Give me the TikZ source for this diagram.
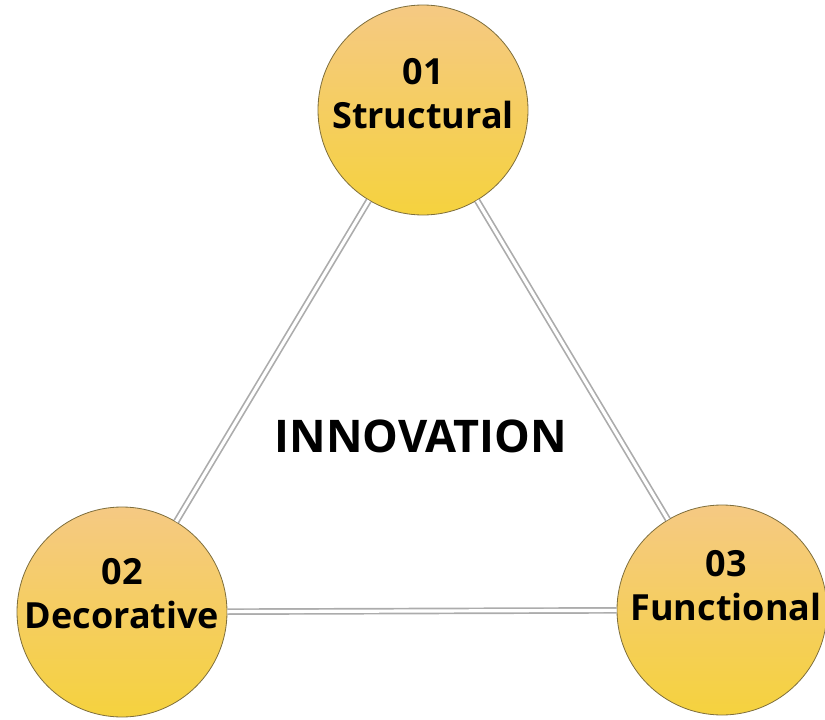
\documentclass[tikz,border=0pt]{standalone}
\usepackage{fontspec}
\setmainfont{Open Sans}
\usepackage{tikz}
\usetikzlibrary{positioning}

\definecolor{bolaarriba}{HTML}{F5C983}
\definecolor{bolaabajo}{HTML}{F5D23E}
\definecolor{borde}{HTML}{7E6E3C}

\begin{document}
\begin{tikzpicture}[x=1pt, y=-1pt,
    bola/.style={draw=borde, line width=0.8pt, circle, minimum size=210pt, inner sep=0pt,
      top color=bolaarriba, bottom color=bolaabajo},
    rotulo/.style={align=center, font=\fontsize{36}{44}\selectfont\bfseries},
    arista/.style={draw=gray!65, line width=1.7pt, double=white, double distance=3.2pt}]
              \useasboundingbox (0,0) rectangle (825,720);
              % Nodos
              \node[bola] (s) at (423,110) {};
              \node[bola] (d) at (122,612) {};
              \node[bola] (f) at (722,610) {};
              \node[rotulo] (st) at ([yshift=16pt]s.center) {01\\Structural};
              \node[rotulo] (dt) at ([yshift=18pt]d.center) {02\\Decorative};
              \node[rotulo] (ft) at ([xshift=4pt,yshift=24pt]f.center) {03\\Functional};
              \node[font=\fontsize{45}{52}\selectfont\bfseries] (i) at (421,436) {INNOVATION};

              % Aristas
              \path[arista] (s) -- (d);
              \path[arista] (s) -- (f);
              \path[arista] (d) -- (f);
            \end{tikzpicture}
\end{document}
